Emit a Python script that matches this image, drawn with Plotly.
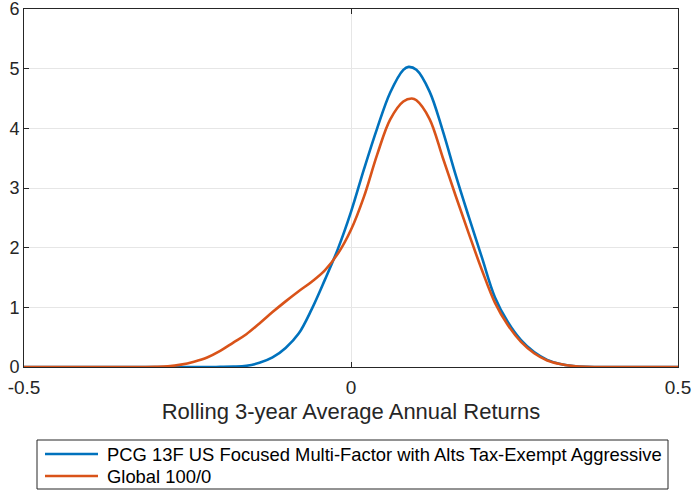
import plotly.graph_objects as go

# Kernel density estimates of rolling 3-year average annual returns
x_pcg = [-0.5, -0.30, -0.26, -0.22, -0.20, -0.18, -0.16, -0.14, -0.12, -0.10,
         -0.08, -0.06, -0.04, -0.02, 0.00, 0.02, 0.04, 0.06, 0.08, 0.088,
         0.10, 0.12, 0.14, 0.16, 0.18, 0.20, 0.22, 0.24, 0.26, 0.28,
         0.30, 0.32, 0.34, 0.36, 0.40, 0.5]
y_pcg = [0, 0, 0, 0, 0.002, 0.006, 0.02, 0.07, 0.16, 0.32,
         0.56, 0.97, 1.46, 1.98, 2.60, 3.32, 4.00, 4.60, 4.98, 5.03,
         4.98, 4.62, 3.97, 3.22, 2.52, 1.84, 1.17, 0.75, 0.45, 0.25,
         0.12, 0.05, 0.018, 0.005, 0, 0]

x_global = [-0.5, -0.32, -0.30, -0.28, -0.26, -0.24, -0.22, -0.20, -0.18, -0.16,
            -0.14, -0.12, -0.10, -0.08, -0.06, -0.04, -0.02, 0.00, 0.02, 0.04,
            0.06, 0.08, 0.093, 0.10, 0.12, 0.14, 0.16, 0.18, 0.20, 0.22,
            0.24, 0.26, 0.28, 0.30, 0.32, 0.34, 0.36, 0.40, 0.5]
y_global = [0, 0, 0.003, 0.012, 0.04, 0.09, 0.16, 0.27, 0.41, 0.55,
            0.73, 0.92, 1.10, 1.27, 1.43, 1.62, 1.90, 2.30, 2.86, 3.56,
            4.15, 4.45, 4.50, 4.47, 4.16, 3.52, 2.87, 2.24, 1.63, 1.08,
            0.70, 0.42, 0.23, 0.11, 0.05, 0.016, 0.004, 0, 0]

names = ["PCG 13F US Focused Multi-Factor with Alts Tax-Exempt Aggressive",
         "Global 100/0"]
colors = ["#0072BD", "#D95319"]

x_ticks = [-0.5, 0, 0.5]
x_tick_text = ["-0.5", "0", "0.5"]
y_ticks = [0, 1, 2, 3, 4, 5, 6]

FONT = "Liberation Sans, Arial, Helvetica, sans-serif"
AXIS_COLOR = "#262626"

W, H = 693, 492
M_L, M_R, M_T, M_B = 24, 15, 9, 125
PLOT_W = W - M_L - M_R
PLOT_H = H - M_T - M_B


def px_x(px):
    """Horizontal pixel -> paper fraction of the plot domain."""
    return (px - M_L) / PLOT_W


def px_y(py):
    """Vertical pixel (from top) -> paper fraction of the plot domain."""
    return (H - M_B - py) / PLOT_H


fig = go.Figure()
for xs, ys, name, col in [(x_pcg, y_pcg, names[0], colors[0]),
                          (x_global, y_global, names[1], colors[1])]:
    fig.add_trace(go.Scatter(
        x=xs, y=ys, mode="lines", name=name, showlegend=False,
        line=dict(color=col, width=2.6, shape="spline", smoothing=1.0),
    ))

axis_common = dict(
    showline=True, linecolor=AXIS_COLOR, linewidth=1, mirror="allticks",
    ticks="inside", ticklen=5, tickcolor=AXIS_COLOR,
    showgrid=True, gridcolor="#e6e6e6", gridwidth=1,
    zeroline=False, automargin=False, ticklabeloverflow="allow",
)

fig.update_xaxes(range=[-0.5, 0.5], tickvals=x_ticks, ticktext=x_tick_text,
                 tickfont=dict(family=FONT, size=19, color=AXIS_COLOR),
                 ticklabelstandoff=3,
                 title=dict(text="Rolling 3-year Average Annual Returns",
                            font=dict(family=FONT, size=22, color=AXIS_COLOR),
                            standoff=6),
                 **axis_common)
fig.update_yaxes(range=[0, 6], tickvals=y_ticks,
                 tickfont=dict(family=FONT, size=18, color=AXIS_COLOR),
                 **axis_common)

# Legend box below the axes, drawn with a wider line swatch
legend_box = dict(left=37, right=668, top=440, bottom=489)
row_y = [454, 476]
swatch_x = (45, 98)
text_x = 105

fig.add_shape(type="rect", xref="paper", yref="paper",
              x0=px_x(legend_box["left"]), x1=px_x(legend_box["right"]),
              y0=px_y(legend_box["bottom"]), y1=px_y(legend_box["top"]),
              line=dict(color=AXIS_COLOR, width=1), fillcolor="white", layer="above")
for name, col, ry in zip(names, colors, row_y):
    fig.add_shape(type="line", xref="paper", yref="paper",
                  x0=px_x(swatch_x[0]), x1=px_x(swatch_x[1]),
                  y0=px_y(ry), y1=px_y(ry),
                  line=dict(color=col, width=2.6), layer="above")
    fig.add_annotation(text=name, xref="paper", yref="paper",
                       x=px_x(text_x), y=px_y(ry), xanchor="left", yanchor="middle",
                       showarrow=False, font=dict(family=FONT, size=18.4, color="#000000"))

fig.update_layout(
    width=W, height=H,
    margin=dict(l=M_L, r=M_R, t=M_T, b=M_B, autoexpand=False),
    paper_bgcolor="white", plot_bgcolor="white",
    showlegend=False,
)

fig.write_html("out.html")
